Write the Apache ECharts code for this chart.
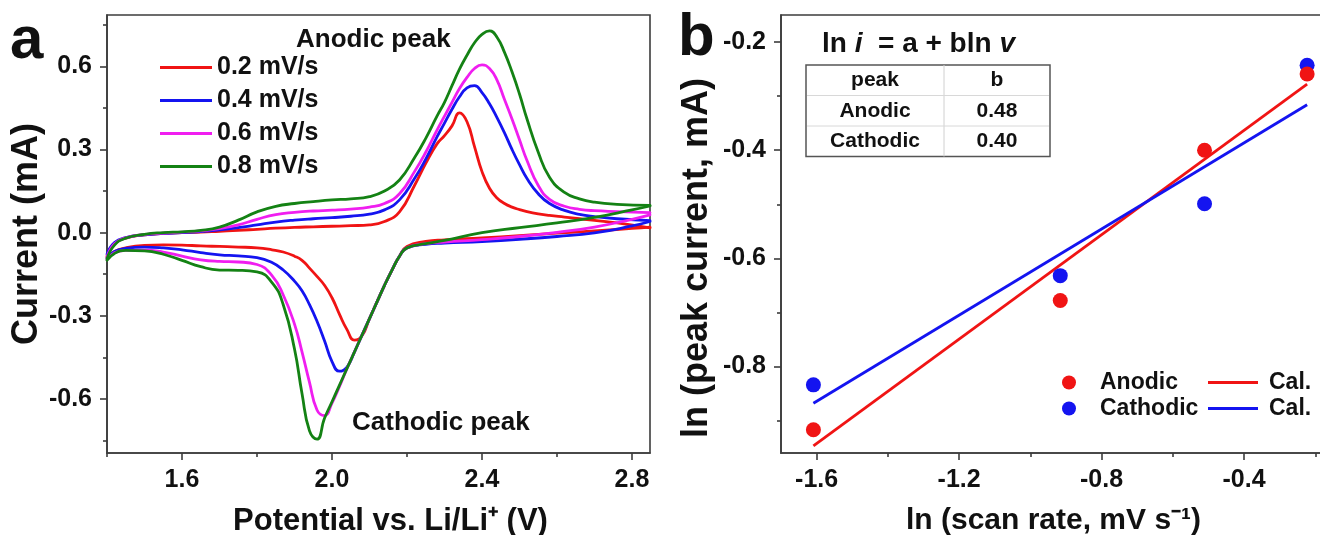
<!DOCTYPE html>
<html>
<head>
<meta charset="utf-8">
<script src="https://cdn.jsdelivr.net/npm/echarts@6/dist/echarts.min.js"></script>
<style>
  html, body { margin: 0; padding: 0; background: #fff; }
  #chart { width: 1320px; height: 535px; }
</style>
</head>
<body>
<div id="chart"></div>
<script>
// ---- (a) cyclic voltammograms ----
// forward (anodic) sweep, potential in V
const CV_UP_V = [1.40, 1.42, 1.45, 1.50, 1.55, 1.60, 1.65, 1.70, 1.75, 1.80,
                 1.85, 1.90, 1.95, 2.00, 2.05, 2.10, 2.14, 2.18, 2.22, 2.25,
                 2.28, 2.30, 2.32, 2.34, 2.36, 2.38, 2.40, 2.42, 2.44, 2.46,
                 2.48, 2.50, 2.52, 2.55, 2.58, 2.62, 2.66, 2.70, 2.76, 2.848];
// current in mA for each scan rate
const CV_UP_02 = [-0.085, -0.040, -0.020, -0.008, -0.003, 0.000, 0.002, 0.005, 0.008, 0.012,
                  0.016, 0.019, 0.021, 0.023, 0.025, 0.028, 0.040, 0.075, 0.170, 0.250,
                  0.320, 0.350, 0.385, 0.432, 0.400, 0.310, 0.220, 0.160, 0.125, 0.105,
                  0.092, 0.083, 0.076, 0.068, 0.062, 0.056, 0.050, 0.044, 0.035, 0.017];
const CV_UP_04 = [-0.078, -0.036, -0.018, -0.008, -0.003, 0.000, 0.004, 0.010, 0.018, 0.028,
                  0.038, 0.045, 0.050, 0.054, 0.059, 0.067, 0.082, 0.118, 0.195, 0.265,
                  0.345, 0.395, 0.445, 0.490, 0.522, 0.530, 0.505, 0.465, 0.415, 0.360,
                  0.300, 0.245, 0.195, 0.140, 0.105, 0.080, 0.066, 0.058, 0.050, 0.043];
const CV_UP_06 = [-0.088, -0.040, -0.019, -0.007, -0.002, 0.002, 0.006, 0.014, 0.028, 0.048,
                  0.065, 0.073, 0.078, 0.081, 0.085, 0.092, 0.105, 0.140, 0.220, 0.290,
                  0.370, 0.420, 0.470, 0.520, 0.560, 0.592, 0.605, 0.592, 0.550, 0.480,
                  0.410, 0.335, 0.260, 0.170, 0.120, 0.095, 0.084, 0.079, 0.076, 0.072];
const CV_UP_08 = [-0.095, -0.045, -0.020, -0.006, 0.000, 0.003, 0.008, 0.020, 0.045, 0.075,
                  0.095, 0.105, 0.112, 0.118, 0.122, 0.130, 0.150, 0.190, 0.270, 0.340,
                  0.420, 0.470, 0.530, 0.590, 0.640, 0.685, 0.715, 0.728, 0.705, 0.650,
                  0.580, 0.500, 0.410, 0.290, 0.200, 0.145, 0.122, 0.110, 0.102, 0.098];

// reverse (cathodic) sweep
const CV_DN_V = [1.40, 1.42, 1.45, 1.50, 1.55, 1.60, 1.65, 1.70, 1.75, 1.80,
                 1.84, 1.87, 1.90, 1.92, 1.94, 1.96, 1.98, 2.00, 2.02, 2.04,
                 2.06, 2.08, 2.10, 2.12, 2.14, 2.16, 2.18, 2.20, 2.25, 2.30,
                 2.40, 2.50, 2.60, 2.70, 2.80, 2.848];
const CV_DN_02 = [-0.090, -0.068, -0.055, -0.046, -0.044, -0.045, -0.048, -0.050, -0.052, -0.055,
                  -0.062, -0.070, -0.085, -0.100, -0.128, -0.158, -0.190, -0.235, -0.295, -0.350,
                  -0.388, -0.372, -0.310, -0.250, -0.190, -0.135, -0.085, -0.050, -0.032, -0.026,
                  -0.019, -0.011, -0.002, 0.006, 0.015, 0.020];
const CV_DN_04 = [-0.092, -0.068, -0.057, -0.052, -0.055, -0.062, -0.072, -0.080, -0.084, -0.090,
                  -0.108, -0.135, -0.175, -0.210, -0.260, -0.320, -0.390, -0.465, -0.500, -0.485,
                  -0.430, -0.370, -0.310, -0.250, -0.190, -0.135, -0.085, -0.055, -0.042, -0.038,
                  -0.032, -0.024, -0.014, -0.001, 0.024, 0.040];
const CV_DN_06 = [-0.098, -0.073, -0.064, -0.063, -0.070, -0.085, -0.098, -0.104, -0.106, -0.115,
                  -0.155, -0.225, -0.330, -0.430, -0.540, -0.640, -0.660, -0.615, -0.555, -0.490,
                  -0.430, -0.370, -0.310, -0.250, -0.190, -0.135, -0.085, -0.055, -0.040, -0.034,
                  -0.025, -0.014, 0.001, 0.020, 0.048, 0.064];
const CV_DN_08 = [-0.100, -0.075, -0.064, -0.066, -0.078, -0.100, -0.123, -0.135, -0.136, -0.142,
                  -0.180, -0.260, -0.420, -0.580, -0.715, -0.745, -0.670, -0.610, -0.550, -0.490,
                  -0.430, -0.370, -0.310, -0.250, -0.190, -0.135, -0.085, -0.055, -0.040, -0.028,
                  0.000, 0.018, 0.035, 0.055, 0.082, 0.096];

const RATE_LABELS = ['0.2 mV/s', '0.4 mV/s', '0.6 mV/s', '0.8 mV/s'];
const RATE_COLORS = ['#f01414', '#1414f0', '#f01ef0', '#148214'];

const A_X_MAJOR = [1.6, 2.0, 2.4, 2.8];
const A_X_MINOR = [1.4, 1.8, 2.2, 2.6];
const A_Y_MAJOR = [-0.6, -0.3, 0.0, 0.3, 0.6];
const A_Y_MINOR = [-0.75, -0.45, -0.15, 0.15, 0.45, 0.75];

// ---- (b) peak current vs scan rate (log-log) ----
const LN_RATE = [-1.609, -0.916, -0.511, -0.223];
const LN_I_ANODIC = [-0.917, -0.678, -0.400, -0.259];
const LN_I_CATHODIC = [-0.834, -0.632, -0.499, -0.243];
const FIT_X = [-1.609, -0.223];
const FIT_ANODIC = [-0.947, -0.278];
const FIT_CATHODIC = [-0.868, -0.316];

const B_X_MAJOR = [-1.6, -1.2, -0.8, -0.4];
const B_X_MINOR = [-1.4, -1.0, -0.6, -0.2];
const B_Y_MAJOR = [-0.8, -0.6, -0.4, -0.2];
const B_Y_MINOR = [-0.9, -0.7, -0.5, -0.3];

const SLOPE_TABLE = [['peak', 'b'], ['Anodic', '0.48'], ['Cathodic', '0.40']];

// ---------------------------------------------------------------
const FONT = '"Liberation Sans", Arial, Helvetica, sans-serif';
const INK = '#111';
const AXIS_COLOR = '#3c3c3c';

const zip = (xs, ys) => xs.map((x, i) => [x, ys[i]]);

function majorAxis(opts, labelMargin) {
  return Object.assign({
    type: 'value',
    axisLine: { show: true, onZero: false, lineStyle: { color: AXIS_COLOR, width: 1.6 } },
    axisTick: { show: true, inside: false, length: 7, customValues: opts.ticks,
                lineStyle: { color: AXIS_COLOR, width: 1.6 } },
    axisLabel: { show: true, customValues: opts.ticks, formatter: v => v.toFixed(1),
                 color: INK, fontFamily: FONT, fontWeight: 'bold', fontSize: 25, margin: labelMargin },
    splitLine: { show: false },
    nameLocation: 'middle'
  }, opts.extra);
}
function minorAxis(opts) {
  return Object.assign({
    type: 'value',
    axisLine: { show: false, onZero: false },
    axisTick: { show: true, inside: false, length: 4, customValues: opts.ticks,
                lineStyle: { color: AXIS_COLOR, width: 1.6 } },
    axisLabel: { show: false },
    splitLine: { show: false }
  }, opts.extra);
}
const nameStyle = (size, padding) => ({ color: INK, fontFamily: FONT, fontWeight: 'bold', fontSize: size, padding });

const GRID_A = { left: 107, top: 15, width: 543, height: 438 };
const GRID_B = { left: 781, top: 15, width: 545, height: 438 };

const xAxes = [
  majorAxis({ ticks: A_X_MAJOR, extra: { gridIndex: 0, position: 'bottom', min: 1.4, max: 2.848,
    name: 'Potential vs. Li/Li\u207A (V)', nameGap: 53, nameTextStyle: nameStyle(31, [0, 0, 0, 24]) } }, 15),
  minorAxis({ ticks: A_X_MINOR, extra: { gridIndex: 0, position: 'bottom', min: 1.4, max: 2.848 } }),
  majorAxis({ ticks: B_X_MAJOR, extra: { gridIndex: 1, position: 'bottom', min: -1.70, max: -0.17,
    name: 'ln (scan rate, mV s\u207B\u00B9)', nameGap: 53, nameTextStyle: nameStyle(30, [0, 0, 0, 0]) } }, 15),
  minorAxis({ ticks: B_X_MINOR, extra: { gridIndex: 1, position: 'bottom', min: -1.70, max: -0.17 } })
];
const yAxes = [
  majorAxis({ ticks: A_Y_MAJOR, extra: { gridIndex: 0, position: 'left', min: -0.795, max: 0.785,
    name: 'Current (mA)', nameGap: 62, nameRotate: 90, nameTextStyle: nameStyle(36, [0, 0, 0, 0]) } }, 15),
  minorAxis({ ticks: A_Y_MINOR, extra: { gridIndex: 0, position: 'left', min: -0.795, max: 0.785 } }),
  majorAxis({ ticks: B_Y_MAJOR, extra: { gridIndex: 1, position: 'left', min: -0.96, max: -0.15,
    name: 'ln (peak current, mA)', nameGap: 66, nameRotate: 90, nameTextStyle: nameStyle(36, [0, 48, 0, 0]) } }, 15),
  minorAxis({ ticks: B_Y_MINOR, extra: { gridIndex: 1, position: 'left', min: -0.96, max: -0.15 } })
];

const cvUp = [CV_UP_02, CV_UP_04, CV_UP_06, CV_UP_08];
const cvDn = [CV_DN_02, CV_DN_04, CV_DN_06, CV_DN_08];

const series = [];
RATE_LABELS.forEach((name, i) => {
  [zip(CV_UP_V, cvUp[i]), zip(CV_DN_V, cvDn[i])].forEach(branch => {
    series.push({
      type: 'line', name, xAxisIndex: 0, yAxisIndex: 0, data: branch,
      symbol: 'none', showSymbol: false, smooth: 0.5,
      lineStyle: { color: RATE_COLORS[i], width: 2.8, cap: 'round', join: 'round' },
      itemStyle: { color: RATE_COLORS[i] },
      silent: true, z: 3 + i
    });
  });
});

const RED = '#f01414', BLUE = '#1414f0';
series.push(
  { type: 'line', name: 'Cal. (anodic)', xAxisIndex: 2, yAxisIndex: 2, data: zip(FIT_X, FIT_ANODIC),
    symbol: 'none', lineStyle: { color: RED, width: 2.8 }, itemStyle: { color: RED }, z: 3 },
  { type: 'line', name: 'Cal. (cathodic)', xAxisIndex: 2, yAxisIndex: 2, data: zip(FIT_X, FIT_CATHODIC),
    symbol: 'none', lineStyle: { color: BLUE, width: 2.8 }, itemStyle: { color: BLUE }, z: 3 },
  { type: 'scatter', name: 'Cathodic', xAxisIndex: 2, yAxisIndex: 2, data: zip(LN_RATE, LN_I_CATHODIC),
    symbol: 'circle', symbolSize: 15, itemStyle: { color: BLUE, opacity: 1 }, z: 4 },
  { type: 'scatter', name: 'Anodic', xAxisIndex: 2, yAxisIndex: 2, data: zip(LN_RATE, LN_I_ANODIC),
    symbol: 'circle', symbolSize: 15, itemStyle: { color: RED, opacity: 1 }, z: 5 }
);

const legendText = (size, padLeft) => ({ color: INK, fontFamily: FONT, fontWeight: 'bold', fontSize: size,
                                         padding: [0, 0, 0, padLeft || 0] });
const legends = [
  { data: RATE_LABELS, orient: 'vertical', left: 155, top: 50, icon: 'rect', itemWidth: 52, itemHeight: 3,
    itemGap: 8, textStyle: legendText(25), selectedMode: false },
  { data: ['Anodic', 'Cathodic'], orient: 'vertical', left: 1057, top: 366, itemWidth: 52, itemHeight: 14,
    itemGap: 3, textStyle: legendText(23), selectedMode: false },
  { data: ['Cal. (anodic)', 'Cal. (cathodic)'], formatter: () => 'Cal.', orient: 'vertical', icon: 'rect',
    left: 1203, top: 366, itemWidth: 50, itemHeight: 3, itemGap: 3, textStyle: legendText(23, 6),
    selectedMode: false }
];

// inset table of fitted slopes
const TABLE = { x: 806, y: 65, w: 244, rowH: 30.5, split: 138 };
const tableEls = [];
tableEls.push({ type: 'rect', shape: { x: TABLE.x, y: TABLE.y, width: TABLE.w, height: TABLE.rowH * SLOPE_TABLE.length },
  style: { fill: '#fff', stroke: '#555', lineWidth: 1.5 }, z: 10 });
tableEls.push({ type: 'line', shape: { x1: TABLE.x + TABLE.split, y1: TABLE.y, x2: TABLE.x + TABLE.split,
  y2: TABLE.y + TABLE.rowH * SLOPE_TABLE.length }, style: { stroke: '#d0d0d0', lineWidth: 1 }, z: 11 });
for (let r = 1; r < SLOPE_TABLE.length; r++) {
  tableEls.push({ type: 'line', shape: { x1: TABLE.x + 1, y1: TABLE.y + r * TABLE.rowH, x2: TABLE.x + TABLE.w - 1,
    y2: TABLE.y + r * TABLE.rowH }, style: { stroke: '#d8d8d8', lineWidth: 1 }, z: 11 });
}
SLOPE_TABLE.forEach((row, r) => {
  const cy = TABLE.y + (r + 0.5) * TABLE.rowH;
  [TABLE.x + TABLE.split / 2, TABLE.x + TABLE.split + (TABLE.w - TABLE.split) / 2].forEach((cx, c) => {
    tableEls.push({ type: 'text', x: cx, y: cy, z: 12,
      style: { text: row[c], fill: INK, font: 'bold 21px ' + FONT,
               align: 'center', verticalAlign: 'middle', textAlign: 'center', textVerticalAlign: 'middle' } });
  });
});

const textEl = (x, y, text, size, extra) => ({
  type: 'text', x, y, z: 12,
  style: Object.assign({ text, fill: INK, font: 'bold ' + size + 'px ' + FONT,
                         align: 'left', verticalAlign: 'middle', textAlign: 'left', textVerticalAlign: 'middle' }, extra || {})
});

const graphics = [
  textEl(10, 41, 'a', 60),
  textEl(678, 38, 'b', 60),
  textEl(296, 40, 'Anodic peak', 26),
  textEl(352, 423, 'Cathodic peak', 26),
  textEl(822, 44, 'ln {it|i}  = a + bln {it|v}', 28, {
    rich: { it: { fontStyle: 'italic', fontWeight: 'bold', fontSize: 28, fontFamily: FONT, fill: INK } }
  })
].concat(tableEls);

const gridBase = { show: true, borderColor: AXIS_COLOR, borderWidth: 1.6, backgroundColor: 'transparent',
                   containLabel: false, outerBoundsMode: 'none' };

const chart = echarts.init(document.getElementById('chart'), null, { renderer: 'canvas' });
chart.setOption({
  animation: false,
  backgroundColor: '#fff',
  grid: [Object.assign({}, gridBase, GRID_A), Object.assign({}, gridBase, GRID_B)],
  xAxis: xAxes,
  yAxis: yAxes,
  legend: legends,
  series,
  graphic: graphics
});
</script>
</body>
</html>
